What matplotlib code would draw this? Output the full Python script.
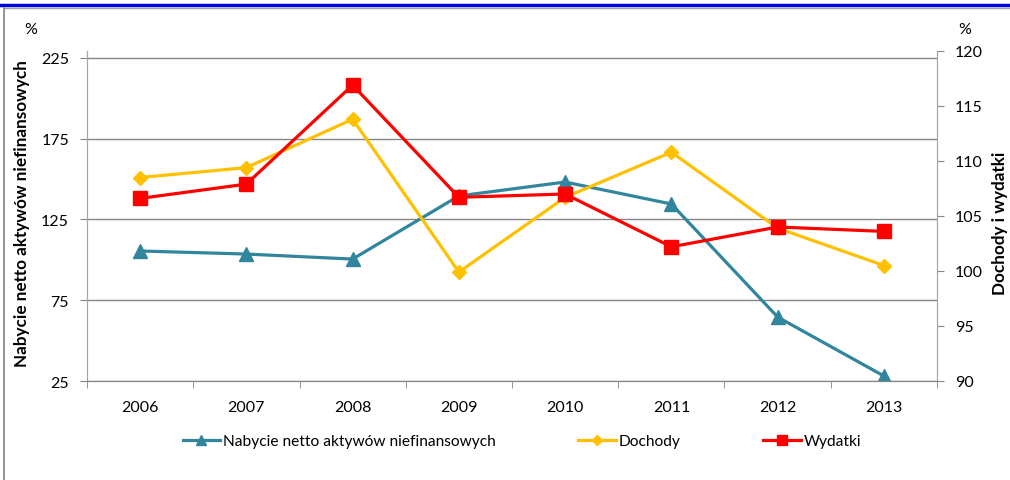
import matplotlib
matplotlib.use('Agg')
from matplotlib import pyplot as plt
from matplotlib.lines import Line2D

plt.rcParams['font.family'] = ['Lato', 'DejaVu Sans']

years = ['2006', '2007', '2008', '2009', '2010', '2011', '2012', '2013']
nabycie = [105.5, 103.6, 100.5, 139.6, 148.2, 134.6, 64.6, 28.1]
dochody = [108.5, 109.4, 113.8, 99.9, 106.7, 110.8, 103.9, 100.5]
wydatki = [106.6, 107.9, 116.9, 106.7, 107.0, 102.2, 104.0, 103.6]

BLUE = '#31859C'
YELLOW = '#FFC000'
RED = '#FF0000'
GRID = '#868686'

fig = plt.figure(figsize=(10.10, 4.81), dpi=100)
ax = fig.add_axes([87 / 1010, 1 - 382 / 481, 850 / 1010, 330 / 481])
ax2 = ax.twinx()

x = list(range(len(years)))

ax.plot(x, nabycie, color=BLUE, lw=2.3, marker='^', ms=10, zorder=3)
ax2.plot(x, dochody, color=YELLOW, lw=2.3, marker='D', ms=7.5, zorder=3)
ax2.plot(x, wydatki, color=RED, lw=2.3, marker='s', ms=9.5, zorder=4)

ax.set_xlim(-0.5, len(years) - 0.5)
ax.set_ylim(25, 229.33)
ax2.set_ylim(90, 120)
ax.set_yticks([25, 75, 125, 175, 225])
ax2.set_yticks([90, 95, 100, 105, 110, 115, 120])
ax.set_xticks(x)
ax.set_xticklabels(years)
ax.set_xticks([i - 0.5 for i in range(len(years) + 1)], minor=True)
ax.tick_params(axis='x', which='major', length=0, pad=14, labelsize=11.5)
ax.tick_params(axis='x', which='minor', length=5, color=GRID, direction='out')
ax.tick_params(axis='y', length=5, color=GRID, labelsize=11.5, pad=8)
ax2.tick_params(axis='y', length=5, color=GRID, labelsize=11.5, pad=8)

for a in (ax, ax2):
    a.spines['top'].set_visible(False)
    a.spines['left'].set_color('#A6A6A6')
    a.spines['right'].set_color('#A6A6A6')
    a.spines['bottom'].set_color(GRID)
ax.yaxis.grid(True, color=GRID, lw=1)
ax.set_axisbelow(True)

fig.text(22 / 1010, 1 - 214 / 481, 'Nabycie netto aktywów niefinansowych', rotation=90,
         ha='center', va='center', fontsize=12.3, fontweight='bold')
fig.text(1000 / 1010, 1 - 223 / 481, 'Dochody i wydatki', rotation=90,
         ha='center', va='center', fontsize=12.3, fontweight='bold')
fig.text(31 / 1010, 1 - 30 / 481, '%', ha='center', va='center', fontsize=11.5)
fig.text(965 / 1010, 1 - 30 / 481, '%', ha='center', va='center', fontsize=11.5)

handles = [
    Line2D([], [], color=BLUE, lw=2.3, marker='^', ms=7),
    Line2D([], [], color=YELLOW, lw=2.3, marker='D', ms=5),
    Line2D([], [], color=RED, lw=2.3, marker='s', ms=7),
]
labels = ['Nabycie netto aktywów niefinansowych', 'Dochody', 'Wydatki']
fig.legend(handles, labels, loc='center', bbox_to_anchor=(522 / 1010, 1 - 442 / 481),
           ncol=3, frameon=False, fontsize=11.2, handlelength=2.4, handletextpad=0.2,
           columnspacing=5.3)

# frame lines
fig.add_artist(Line2D([0, 1], [1 - 5.5 / 481, 1 - 5.5 / 481], color='#0000DD', lw=2.5))
fig.add_artist(Line2D([4 / 1010, 1], [1 - 8.5 / 481, 1 - 8.5 / 481], color='#A0A0A0', lw=1))
fig.add_artist(Line2D([4 / 1010, 4 / 1010], [0, 1 - 8.5 / 481], color='#808080', lw=1.2))

fig.savefig('out.png', dpi=100)
